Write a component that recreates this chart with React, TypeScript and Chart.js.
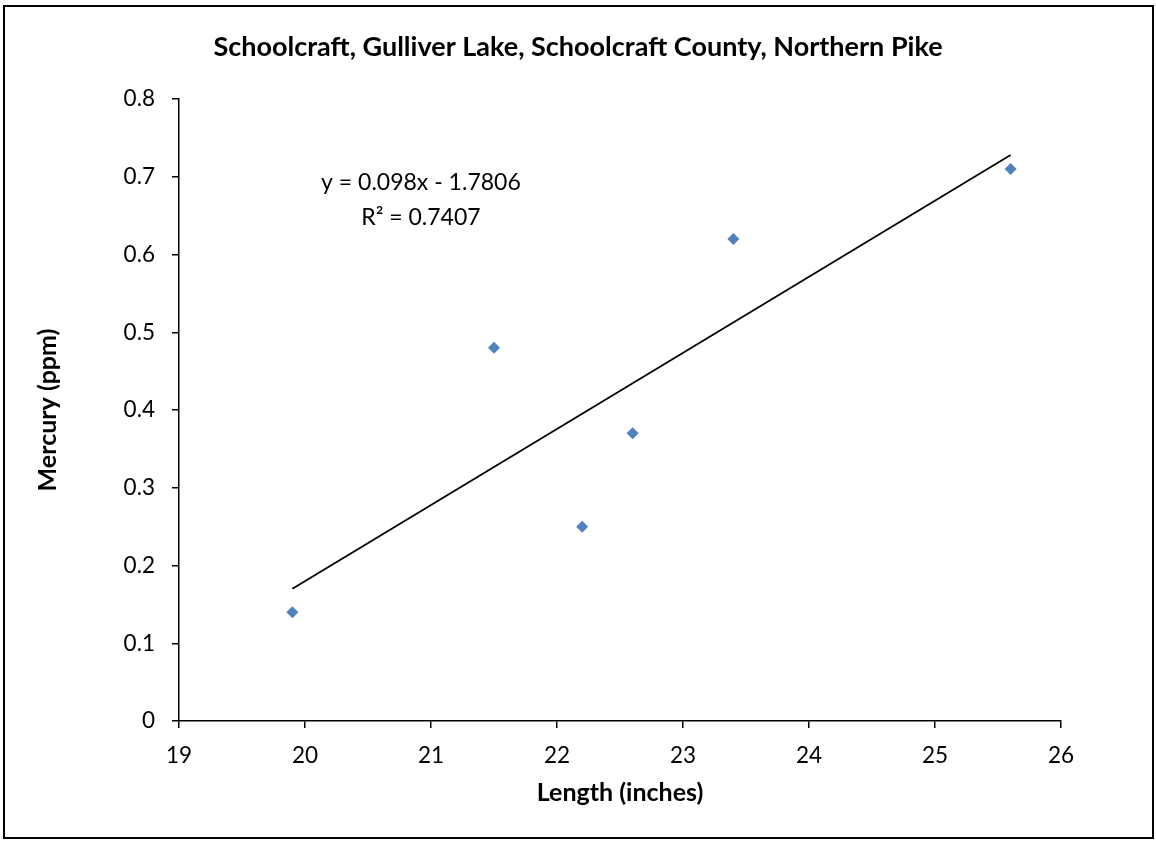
import React, { useEffect, useRef } from "react";
import { Chart, registerables } from "chart.js";

Chart.register(...registerables);

const titleText = "Schoolcraft, Gulliver Lake, Schoolcraft County, Northern Pike";
const xAxisTitle = "Length (inches)";
const yAxisTitle = "Mercury (ppm)";
const lengths = [19.9, 21.5, 22.2, 22.6, 23.4, 25.6];
const mercury = [0.14, 0.48, 0.25, 0.37, 0.62, 0.71];
const trendX = [19.9, 25.6];
const trendY = [0.17, 0.728];
const equationLines = ["y = 0.098x - 1.7806", "R² = 0.7407"];
const equationPos = { x: 20.92, y: [0.693, 0.648] };

const FONT = "Lato, 'Open Sans', sans-serif";

const textPlugin = {
  id: "texts",
  afterDatasetsDraw(chart: any) {
    const { ctx, scales, width } = chart;
    ctx.save();
    ctx.fillStyle = "#000";
    ctx.textAlign = "center";
    ctx.textBaseline = "middle";
    ctx.font = `bold 27px ${FONT}`;
    ctx.fillText(titleText, width / 2, 47);
    ctx.font = `23px ${FONT}`;
    const px = scales.x.getPixelForValue(equationPos.x);
    equationLines.forEach((t, i) => {
      ctx.fillText(t, px, scales.y.getPixelForValue(equationPos.y[i]));
    });
    ctx.restore();
  },
};

export default function App() {
  const ref = useRef<HTMLCanvasElement>(null);
  useEffect(() => {
    if (!ref.current) return;
    const chart = new Chart(ref.current, {
      type: "scatter",
      data: {
        datasets: [
          {
            label: "Data",
            data: lengths.map((x, i) => ({ x, y: mercury[i] })),
            pointStyle: "rectRot",
            pointRadius: 6,
            backgroundColor: "#4F81BD",
            borderColor: "#4F81BD",
            borderWidth: 0,
          },
          {
            label: "Trend",
            type: "line",
            data: trendX.map((x, i) => ({ x, y: trendY[i] })),
            borderColor: "#000",
            borderWidth: 1.75,
            pointRadius: 0,
            fill: false,
          },
        ],
      },
      options: {
        animation: false,
        responsive: false,
        layout: { padding: { left: 0, top: 99, right: 95, bottom: 0 } },
        plugins: {
          legend: { display: false },
          tooltip: { enabled: false },
          title: { display: false },
        },
        scales: {
          x: {
            type: "linear",
            min: 19,
            max: 26,
            afterFit: (s: any) => {
              s.height = 121;
            },
            ticks: {
              stepSize: 1,
              color: "#000",
              padding: 14,
              font: { family: FONT, size: 22.5 },
            },
            grid: { display: true, drawOnChartArea: false, tickLength: 7, color: "#000", lineWidth: 1.5 },
            border: { display: true, color: "#000", width: 1.5 },
            title: {
              display: true,
              text: xAxisTitle,
              color: "#000",
              font: { family: FONT, size: 25, weight: "bold" },
              padding: { top: 0, bottom: 34 },
            },
          },
          y: {
            type: "linear",
            min: 0,
            max: 0.8,
            afterFit: (s: any) => {
              s.width = 179;
            },
            ticks: {
              stepSize: 0.1,
              color: "#000",
              padding: 17,
              font: { family: FONT, size: 22.5 },
              callback: (v: any) => String(Math.round(Number(v) * 10) / 10),
            },
            grid: { display: true, drawOnChartArea: false, tickLength: 7, color: "#000", lineWidth: 1.5 },
            border: { display: true, color: "#000", width: 1.5 },
            title: {
              display: true,
              text: yAxisTitle,
              color: "#000",
              font: { family: FONT, size: 25, weight: "bold" },
              padding: { top: 33, bottom: 0 },
            },
          },
        },
      },
      plugins: [textPlugin],
    });
    return () => chart.destroy();
  }, []);
  return (
    <div>
      <canvas
        ref={ref}
        width={1156}
        height={842}
        style={{ position: "fixed", left: 0, top: 0, width: 1156, height: 842, background: "#fff" }}
      />
      <div
        style={{
          position: "fixed",
          left: 3,
          top: 5,
          width: 1147,
          height: 830,
          border: "2px solid #000",
          pointerEvents: "none",
        }}
      />
    </div>
  );
}
